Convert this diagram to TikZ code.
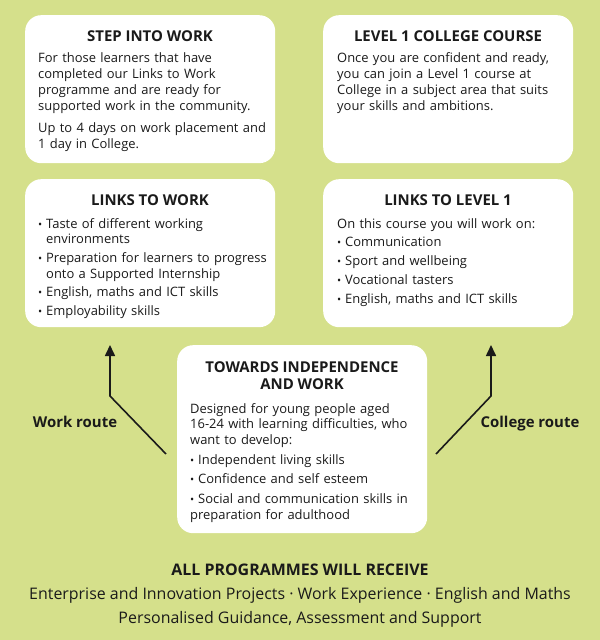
\documentclass[tikz,border=0pt]{standalone}
\usepackage{fontspec}
\setmainfont{Open Sans}
\usetikzlibrary{arrows.meta}
\definecolor{bg}{HTML}{D5E08B}
\definecolor{ink}{HTML}{1A1A1A}
\newcommand{\bul}{\makebox[8bp][l]{\scalebox{0.85}{\textbullet}}}
\newcommand{\bitem}[1]{\par\hangindent=8bp\hangafter=1\noindent\bul#1}
\tikzset{
  panel/.style={fill=white, rounded corners=16bp, inner sep=0pt, minimum width=250bp, anchor=north west},
  ttl/.style={font=\fontsize{15}{17}\selectfont\bfseries, text=ink, inner sep=0pt, align=center, anchor=base},
  bodytext/.style={font=\fontsize{13}{16}\selectfont, text=ink, inner sep=0pt, text width=#1, align=left, anchor=base west},
  arr/.style={line width=1.6bp, draw=ink, -{Triangle[width=10bp,length=11bp]}},
  lbl/.style={font=\fontsize{15}{18}\selectfont\bfseries, text=ink, inner sep=0pt, anchor=base},
  foot/.style={font=\fontsize{16}{19}\selectfont, text=ink, inner sep=0pt, anchor=base}
}
\begin{document}
\begin{tikzpicture}[x=1bp,y=-1bp]
\fill[bg] (0,0) rectangle (600,640);
\useasboundingbox (0,0) rectangle (600,640);

% Step into work
\node[panel, minimum height=148bp] (b1) at (25,15) {};
\node[ttl] (t1) at (150,42) {STEP INTO WORK};
\node[bodytext=235bp] (x1) at (38,63) {\setlength{\parskip}{6bp}\noindent For those learners that have\newline completed our Links to Work\newline programme and are ready for\newline supported work in the community.\par
\noindent Up to 4 days on work placement and\newline 1 day in College.};

% Level 1 college course
\node[panel, minimum height=148bp] (b2) at (323,15) {};
\node[ttl] (t2) at (448,42) {LEVEL 1 COLLEGE COURSE};
\node[bodytext=232bp] (x2) at (337,63) {\noindent Once you are confident and ready,\newline you can join a Level 1 course at\newline College in a subject area that suits\newline your skills and ambitions.};

% Links to work
\node[panel, minimum height=148bp] (b3) at (25,179) {};
\node[ttl] (t3) at (150,205) {LINKS TO WORK};
\node[bodytext=235bp] (x3) at (38,228) {\setlength{\parskip}{2.5bp}\hangindent=8bp\hangafter=1\noindent\bul Taste of different working\newline environments
\bitem{Preparation for learners to progress\newline onto a Supported Internship}
\bitem{English, maths and ICT skills}
\bitem{Employability skills}};

% Links to level 1
\node[panel, minimum height=148bp] (b4) at (323,179) {};
\node[ttl] (t4) at (448,205) {LINKS TO LEVEL 1};
\node[bodytext=232bp] (x4) at (337,228) {\setlength{\parskip}{3bp}\noindent On this course you will work on:
\bitem{Communication}
\bitem{Sport and wellbeing}
\bitem{Vocational tasters}
\bitem{English, maths and ICT skills}};

% Towards independence
\node[panel, minimum height=188bp] (b5) at (177,345) {};
\node[ttl] (t5) at (302,389) {TOWARDS INDEPENDENCE\\AND WORK};
\node[bodytext=232bp] (x5) at (190,413) {\setlength{\parskip}{3.5bp}\noindent Designed for young people aged\newline 16-24 with learning difficulties, who\newline want to develop:
\bitem{Independent living skills}
\bitem{Confidence and self esteem}
\bitem{Social and communication skills in\newline preparation for adulthood}};

% routes
\coordinate (wa) at (166,454);
\coordinate (wb) at (110,396);
\coordinate (wt) at (110,345);
\draw[arr] (wa) -- (wb) -- (wt);
\coordinate (ca) at (436,454);
\coordinate (cb) at (491,396);
\coordinate (ct) at (491,345);
\draw[arr] (ca) -- (cb) -- (ct);
\node[lbl] (wr) at (75,427) {Work route};
\node[lbl] (cr) at (530,427) {College route};

% footer
\node[foot, font=\fontsize{16}{19}\selectfont\bfseries] (f1) at (300,575) {ALL PROGRAMMES WILL RECEIVE};
\node[foot] (f2) at (300,599) {Enterprise and Innovation Projects · Work Experience · English and Maths};
\node[foot] (f3) at (300,623) {Personalised Guidance, Assessment and Support};
\end{tikzpicture}
\end{document}
